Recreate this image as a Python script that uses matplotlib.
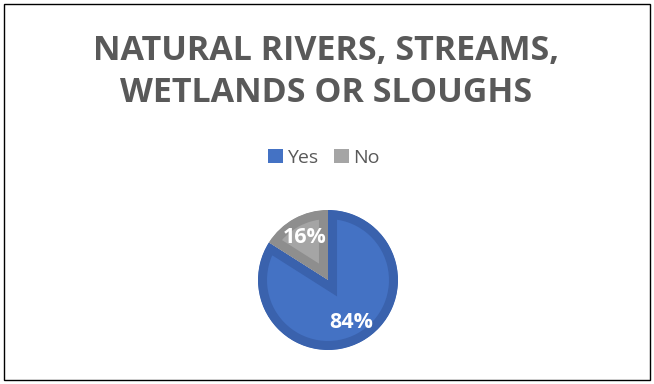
import matplotlib
matplotlib.use('Agg')
import matplotlib.pyplot as plt
from matplotlib.patches import Rectangle

labels = ['Yes', 'No']
values = [84, 16]
fills = ['#4472C4', '#A5A5A5']
edges = ['#3A62AD', '#8E8E8E']
title = 'NATURAL RIVERS, STREAMS,\nWETLANDS OR SLOUGHS'

plt.rcParams['font.family'] = ['Open Sans', 'DejaVu Sans']

W, H = 654, 384
fig = plt.figure(figsize=(W/100, H/100), dpi=100)
fig.patch.set_facecolor('white')

# outer frame
fig.add_artist(Rectangle((4/W, 4/H), 646/W, 376/H, transform=fig.transFigure,
                         fill=False, edgecolor='#000000', linewidth=1))

fig.text(326/W, 1 - 72/H, title, ha='center', va='center', fontsize=24.5,
         fontweight='bold', color='#595959', linespacing=1.27)

# pie axes: centre (328,280), radius 70 px
cx, cy, r = 328, 280, 70
ax = fig.add_axes([(cx - r)/W, (H - cy - r)/H, 2*r/W, 2*r/H])
wedges, texts, autotexts = ax.pie(values, colors=fills, startangle=90,
                                  counterclock=False, autopct='%1.0f%%',
                                  pctdistance=0.69, radius=1,
                                  textprops=dict(color='white', fontsize=15.5,
                                                 fontweight='bold'))
for w, ec in zip(wedges, edges):
    w.set_edgecolor(ec)
    w.set_linewidth(13)
    w.set_clip_path(w)
    w.set_clip_on(True)
ax.set_xlim(-1, 1)
ax.set_ylim(-1, 1)
ax.set_aspect('equal')

leg = fig.legend(wedges, labels, loc='center', bbox_to_anchor=(324/W, 1 - 158/H),
                 ncol=2, frameon=False, fontsize=14, handlelength=0.75,
                 handleheight=0.75, handletextpad=0.25, columnspacing=0.8,
                 labelcolor='#595959')
for h, c in zip(leg.legend_handles, fills):
    h.set_facecolor(c)
    h.set_edgecolor(c)
    h.set_linewidth(0)

plt.savefig('out.png', dpi=100)
